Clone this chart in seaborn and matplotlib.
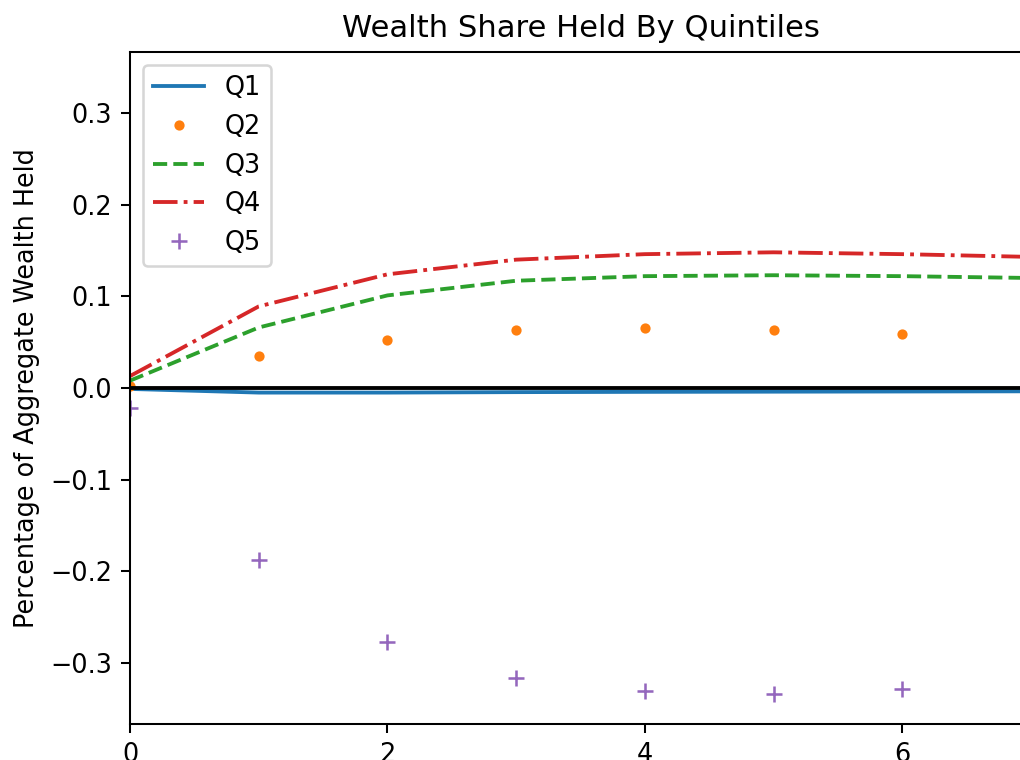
import matplotlib
matplotlib.use("Agg")
import matplotlib.pyplot as plt
import seaborn as sns
import pandas as pd

# Periods after the shock
periods = [0, 1, 2, 3, 4, 5, 6, 7]

# Change in share of aggregate wealth held by each quintile
q1 = [-0.001, -0.005, -0.005, -0.0045, -0.0042, -0.004, -0.0038, -0.0036]
q2 = [0.002, 0.035, 0.052, 0.063, 0.065, 0.063, 0.059, 0.056]
q3 = [0.008, 0.066, 0.101, 0.117, 0.122, 0.123, 0.122, 0.120]
q4 = [0.013, 0.089, 0.124, 0.140, 0.146, 0.148, 0.146, 0.143]
q5 = [-0.022, -0.188, -0.277, -0.316, -0.331, -0.334, -0.328, -0.322]

x_ticks = [0, 2, 4, 6]
y_ticks = [-0.3, -0.2, -0.1, 0.0, 0.1, 0.2, 0.3]

DPI = 184
W, H = 1020, 760
fig = plt.figure(figsize=(W / DPI, H / DPI), dpi=DPI)
ax = fig.add_axes([130 / W, 36 / H, 901 / W, 672 / H])

df = pd.DataFrame({"t": periods, "Q1": q1, "Q2": q2, "Q3": q3, "Q4": q4, "Q5": q5})
palette = sns.color_palette("tab10")

sns.lineplot(data=df, x="t", y="Q1", ax=ax, color=palette[0], linestyle="-",
             label="Q1", lw=1.5)
sns.lineplot(data=df, x="t", y="Q2", ax=ax, color=palette[1], linestyle="",
             marker=".", markersize=6, markeredgecolor=palette[1],
             markeredgewidth=1.0, label="Q2")
sns.lineplot(data=df, x="t", y="Q3", ax=ax, color=palette[2], linestyle="--",
             label="Q3", lw=1.5)
sns.lineplot(data=df, x="t", y="Q4", ax=ax, color=palette[3], linestyle="-.",
             label="Q4", lw=1.5)
sns.lineplot(data=df, x="t", y="Q5", ax=ax, color=palette[4], linestyle="",
             marker="+", markersize=6, markeredgecolor=palette[4],
             markeredgewidth=1.0, label="Q5")

ax.axhline(0, color="black", lw=1.5, zorder=3)

ax.set_xlim(0, 7)
ax.set_ylim(-0.3665, 0.3665)
ax.set_xticks(x_ticks)
ax.set_yticks(y_ticks)
ax.set_xlabel("")
ax.set_ylabel("Percentage of Aggregate Wealth Held", fontsize=10)
ax.set_title("Wealth Share Held By Quintiles", fontsize=12)
ax.tick_params(labelsize=10)

ax.legend(loc="upper left", fontsize=10)

fig.savefig("out.png", dpi=DPI)
